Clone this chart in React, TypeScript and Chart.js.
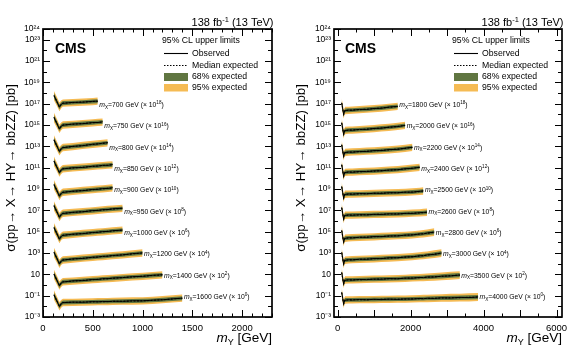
import React, { useEffect, useRef } from 'react';
import { Chart, registerables } from 'chart.js';
Chart.register(...registerables);

const FONT = '"Liberation Sans", Arial, Helvetica, sans-serif';
const GREEN = '#607641';
const YELLOW = '#F5BB54';

// ---------- Left panel data (log10 of limit in pb, before scaling) ----------
const leftMassesX = [700, 750, 800, 850, 900, 950, 1000, 1200, 1400, 1600];
const leftScaleExp = [18, 16, 14, 12, 10, 8, 6, 4, 2, 0];
const leftMY = [110, 140, 165, 185, 200, 300, 400, 500, 550, 600, 650, 700, 800, 900, 1000, 1100, 1200, 1300, 1400];
const leftExpLog = [
  [-0.25, -0.80, -1.30, -1.05, -0.95, -0.90, -0.85, -0.80, -0.77],
  [-0.30, -0.85, -1.35, -1.10, -1.00, -0.93, -0.86, -0.79, -0.76, -0.72],
  [-0.41, -0.96, -1.46, -1.21, -1.11, -1.02, -0.92, -0.82, -0.77, -0.72, -0.67],
  [-0.40, -0.95, -1.45, -1.20, -1.10, -1.03, -0.96, -0.88, -0.84, -0.80, -0.77, -0.73],
  [-0.60, -1.15, -1.65, -1.40, -1.30, -1.22, -1.14, -1.06, -1.02, -0.98, -0.94, -0.90],
  [-0.58, -1.13, -1.63, -1.38, -1.28, -1.20, -1.12, -1.04, -1.00, -0.96, -0.92, -0.88, -0.81],
  [-0.63, -1.18, -1.68, -1.43, -1.33, -1.25, -1.17, -1.09, -1.05, -1.01, -0.97, -0.93, -0.86],
  [-0.95, -1.50, -2.00, -1.75, -1.65, -1.57, -1.49, -1.41, -1.37, -1.33, -1.29, -1.25, -1.17, -1.08, -1.00],
  [-1.00, -1.55, -2.05, -1.80, -1.70, -1.63, -1.57, -1.50, -1.47, -1.43, -1.40, -1.37, -1.30, -1.24, -1.18, -1.11, -1.05],
  [-0.94, -1.49, -1.99, -1.74, -1.64, -1.62, -1.60, -1.58, -1.57, -1.56, -1.55, -1.54, -1.52, -1.50, -1.48, -1.44, -1.38, -1.31, -1.24],
];
const leftObsLog = [
  [-0.22, -0.83, -1.33, -1.03, -0.97, -0.88, -0.86, -0.78, -0.76],
  [-0.27, -0.88, -1.38, -1.08, -1.02, -0.91, -0.88, -0.77, -0.77, -0.70],
  [-0.38, -0.99, -1.49, -1.19, -1.13, -1.00, -0.94, -0.80, -0.78, -0.70, -0.66],
  [-0.37, -0.98, -1.48, -1.18, -1.12, -1.01, -0.98, -0.86, -0.85, -0.78, -0.78, -0.71],
  [-0.57, -1.18, -1.68, -1.38, -1.32, -1.20, -1.16, -1.04, -1.03, -0.96, -0.95, -0.88],
  [-0.55, -1.16, -1.66, -1.36, -1.30, -1.18, -1.14, -1.02, -1.01, -0.94, -0.93, -0.86, -0.80],
  [-0.60, -1.21, -1.71, -1.41, -1.35, -1.23, -1.19, -1.07, -1.06, -0.99, -0.98, -0.91, -0.85],
  [-0.92, -1.53, -2.03, -1.73, -1.67, -1.55, -1.51, -1.39, -1.38, -1.31, -1.30, -1.23, -1.18, -1.06, -0.99],
  [-0.97, -1.58, -2.08, -1.78, -1.72, -1.61, -1.59, -1.48, -1.48, -1.41, -1.41, -1.35, -1.31, -1.22, -1.19, -1.09, -1.04],
  [-0.91, -1.52, -2.02, -1.72, -1.66, -1.60, -1.62, -1.56, -1.58, -1.54, -1.56, -1.52, -1.53, -1.48, -1.49, -1.42, -1.39, -1.30, -1.23],
];
const leftBand68 = [0.24, 0.22, 0.22, 0.2, 0.19, 0.18, 0.18, 0.18, 0.18, 0.18, 0.18, 0.18, 0.18, 0.18, 0.18, 0.18, 0.18, 0.18, 0.18];
const leftBand95 = [0.44, 0.42, 0.4, 0.36, 0.35, 0.34, 0.34, 0.34, 0.34, 0.34, 0.34, 0.34, 0.34, 0.34, 0.34, 0.34, 0.34, 0.34, 0.34];
const leftXTickLabels = [0, 500, 1000, 1500, 2000];

// ---------- Right panel data ----------
const rightMassesX = [1800, 2000, 2200, 2400, 2500, 2600, 2800, 3000, 3500, 4000];
const rightScaleExp = [18, 16, 14, 12, 10, 8, 6, 4, 2, 0];
const rightMY = [110, 140, 165, 185, 200, 300, 400, 600, 800, 1000, 1200, 1400, 1650, 1850, 2050, 2250, 2350, 2450, 2650, 2850, 3100, 3350, 3600, 3850];
const rightExpLog = [
  [-0.94, -1.49, -1.99, -1.74, -1.64, -1.62, -1.60, -1.56, -1.52, -1.47, -1.41, -1.34, -1.26],
  [-0.81, -1.36, -1.86, -1.61, -1.51, -1.49, -1.47, -1.43, -1.39, -1.34, -1.28, -1.22, -1.13, -1.04],
  [-0.87, -1.42, -1.92, -1.67, -1.57, -1.55, -1.53, -1.50, -1.46, -1.42, -1.38, -1.33, -1.26, -1.19, -1.10],
  [-0.74, -1.29, -1.79, -1.54, -1.44, -1.42, -1.41, -1.38, -1.35, -1.32, -1.28, -1.24, -1.18, -1.12, -1.05, -0.97],
  [-0.79, -1.34, -1.84, -1.59, -1.49, -1.48, -1.47, -1.45, -1.43, -1.41, -1.39, -1.37, -1.34, -1.31, -1.28, -1.23, -1.19],
  [-0.76, -1.31, -1.81, -1.56, -1.46, -1.45, -1.44, -1.43, -1.41, -1.39, -1.37, -1.35, -1.33, -1.30, -1.27, -1.24, -1.21, -1.18],
  [-0.91, -1.46, -1.96, -1.71, -1.61, -1.59, -1.57, -1.54, -1.51, -1.48, -1.45, -1.42, -1.38, -1.34, -1.29, -1.23, -1.19, -1.15, -1.05],
  [-0.97, -1.52, -2.02, -1.77, -1.67, -1.65, -1.63, -1.60, -1.57, -1.54, -1.51, -1.47, -1.43, -1.39, -1.34, -1.28, -1.24, -1.20, -1.11, -1.01],
  [-0.84, -1.39, -1.89, -1.64, -1.54, -1.53, -1.52, -1.50, -1.48, -1.46, -1.44, -1.42, -1.40, -1.37, -1.34, -1.31, -1.29, -1.27, -1.23, -1.19, -1.13, -1.07],
  [-0.71, -1.26, -1.76, -1.51, -1.41, -1.40, -1.39, -1.38, -1.37, -1.36, -1.35, -1.34, -1.33, -1.32, -1.30, -1.28, -1.27, -1.26, -1.24, -1.22, -1.20, -1.18, -1.16, -1.13],
];
const rightObsLog = [
  [-0.91, -1.52, -2.02, -1.72, -1.66, -1.60, -1.62, -1.54, -1.54, -1.45, -1.43, -1.32, -1.25],
  [-0.78, -1.39, -1.89, -1.59, -1.53, -1.47, -1.49, -1.41, -1.41, -1.32, -1.30, -1.20, -1.15, -1.03],
  [-0.84, -1.45, -1.95, -1.65, -1.59, -1.53, -1.55, -1.48, -1.48, -1.40, -1.40, -1.31, -1.28, -1.17, -1.09],
  [-0.71, -1.32, -1.82, -1.52, -1.46, -1.40, -1.43, -1.36, -1.37, -1.30, -1.30, -1.22, -1.20, -1.10, -1.06, -0.96],
  [-0.76, -1.37, -1.87, -1.57, -1.51, -1.46, -1.49, -1.43, -1.45, -1.39, -1.41, -1.35, -1.36, -1.29, -1.30, -1.21, -1.18],
  [-0.73, -1.34, -1.84, -1.54, -1.48, -1.43, -1.46, -1.41, -1.43, -1.37, -1.39, -1.33, -1.35, -1.28, -1.29, -1.22, -1.20, -1.17],
  [-0.88, -1.49, -1.99, -1.69, -1.63, -1.57, -1.59, -1.52, -1.53, -1.46, -1.47, -1.40, -1.40, -1.32, -1.31, -1.21, -1.21, -1.13, -1.04],
  [-0.94, -1.55, -2.05, -1.75, -1.69, -1.63, -1.65, -1.58, -1.59, -1.52, -1.53, -1.45, -1.45, -1.37, -1.36, -1.26, -1.26, -1.18, -1.13, -1.00],
  [-0.81, -1.42, -1.92, -1.62, -1.56, -1.51, -1.54, -1.48, -1.50, -1.44, -1.46, -1.40, -1.42, -1.35, -1.36, -1.29, -1.31, -1.25, -1.25, -1.17, -1.15, -1.06],
  [-0.68, -1.29, -1.79, -1.49, -1.43, -1.38, -1.41, -1.36, -1.39, -1.34, -1.37, -1.32, -1.35, -1.30, -1.32, -1.26, -1.29, -1.24, -1.26, -1.20, -1.22, -1.16, -1.18, -1.12],
];
const rightBand68 = [0.24, 0.22, 0.22, 0.2, 0.19, 0.18, 0.18, 0.18, 0.18, 0.18, 0.18, 0.18, 0.18, 0.18, 0.18, 0.18, 0.18, 0.18, 0.19, 0.19, 0.2, 0.2, 0.2, 0.2];
const rightBand95 = [0.44, 0.42, 0.4, 0.36, 0.35, 0.34, 0.34, 0.34, 0.34, 0.34, 0.34, 0.34, 0.34, 0.34, 0.34, 0.34, 0.35, 0.35, 0.36, 0.36, 0.37, 0.37, 0.38, 0.38];
const rightXTickLabels = [0, 2000, 4000, 6000];

// ---------- Axis labels ----------
const yDecades = [-3, -2, -1, 0, 1, 2, 3, 4, 5, 6, 7, 8, 9, 10, 11, 12, 13, 14, 15, 16, 17, 18, 19, 20, 21, 22, 23, 24];
const yLabelExps = [24, 23, 21, 19, 17, 15, 13, 11, 9, 7, 5, 3, 1, -1, -3];
const legendEntries = ['Observed', 'Median expected', '68% expected', '95% expected'];
const legendHeader = '95% CL upper limits';
const yTitle = 'σ(pp→ X→ HY→ bbZZ) [pb]';
const lumiText = ['138 fb', '-1', ' (13 TeV)'];

const SUP: Record<string, string> = { '0': '⁰', '1': '¹', '2': '²', '3': '³', '4': '⁴', '5': '⁵', '6': '⁶', '7': '⁷', '8': '⁸', '9': '⁹', '-': '⁻' };
const sup = (n: number) => String(n).split('').map((c) => SUP[c]).join('');
const decadeLabel = (e: number) => (e === 1 ? '10' : '10' + sup(e));

type Seg = { t: string; size: number; style?: string; dy?: number };
const segFont = (s: Seg) => `${s.style ?? ''} ${s.size}px ${FONT}`;
function richWidth(ctx: CanvasRenderingContext2D, segs: Seg[]) {
  let w = 0;
  for (const s of segs) { ctx.font = segFont(s); w += ctx.measureText(s.t).width; }
  return w;
}
function drawRich(ctx: CanvasRenderingContext2D, x: number, y: number, segs: Seg[]) {
  let cx = x;
  for (const s of segs) {
    ctx.font = segFont(s);
    ctx.fillText(s.t, cx, y + (s.dy ?? 0));
    cx += ctx.measureText(s.t).width;
  }
}

interface PanelSpec {
  masses: number[]; scaleExp: number[]; grid: number[];
  expLog: number[][]; obsLog: number[][]; band68: number[]; band95: number[];
  xMin: number; xMax: number; xLabels: number[]; xMajor: number; xMinor: number; yWidth: number;
}

const leftSpec: PanelSpec = {
  masses: leftMassesX, scaleExp: leftScaleExp, grid: leftMY, expLog: leftExpLog, obsLog: leftObsLog,
  band68: leftBand68, band95: leftBand95, xMin: 0, xMax: 2300, xLabels: leftXTickLabels, xMajor: 500, xMinor: 100, yWidth: 43,
};
const rightSpec: PanelSpec = {
  masses: rightMassesX, scaleExp: rightScaleExp, grid: rightMY, expLog: rightExpLog, obsLog: rightObsLog,
  band68: rightBand68, band95: rightBand95, xMin: -100, xMax: 6150, xLabels: rightXTickLabels, xMajor: 1000, xMinor: 500, yWidth: 44,
};

function buildDatasets(spec: PanelSpec) {
  const ds: any[] = [];
  spec.expLog.forEach((expArr, i) => {
    const s = spec.scaleExp[i];
    const mk = (arr: number[], off: (j: number) => number) =>
      arr.map((v, j) => ({ x: spec.grid[j], y: Math.pow(10, v + off(j) + s) }));
    const base = { pointRadius: 0, tension: 0, borderColor: 'transparent', borderWidth: 0 };
    ds.push({ ...base, data: mk(expArr, (j) => spec.band95[j]), fill: '+1', backgroundColor: YELLOW, order: 3 });
    ds.push({ ...base, data: mk(expArr, (j) => -spec.band95[j]), fill: false, order: 3 });
    ds.push({ ...base, data: mk(expArr, (j) => spec.band68[j]), fill: '+1', backgroundColor: GREEN, order: 2 });
    ds.push({ ...base, data: mk(expArr, (j) => -spec.band68[j]), fill: false, order: 2 });
    ds.push({ pointRadius: 0, tension: 0, data: mk(expArr, () => 0), borderColor: '#000', borderWidth: 1.1, borderDash: [1.8, 1.6], fill: false, order: 1 });
    ds.push({ pointRadius: 0, tension: 0, data: mk(spec.obsLog[i], () => 0), borderColor: '#000', borderWidth: 1.0, fill: false, order: 0 });
  });
  return ds;
}

function makeDecor(spec: PanelSpec) {
  return {
    id: 'decor',
    afterDatasetsDraw(chart: any) {
      const ctx: CanvasRenderingContext2D = chart.ctx;
      const { left, right, top, bottom } = chart.chartArea;
      const xs = chart.scales.x;
      const ys = chart.scales.y;
      ctx.save();
      ctx.strokeStyle = '#000';
      ctx.fillStyle = '#000';
      // ticks (inward)
      ctx.lineWidth = 1;
      ctx.beginPath();
      for (const e of yDecades) {
        const py = Math.round(ys.getPixelForValue(Math.pow(10, e))) + 0.5;
        const len = yLabelExps.includes(e) ? 7 : 4;
        ctx.moveTo(left, py); ctx.lineTo(left + len, py);
        ctx.moveTo(right, py); ctx.lineTo(right - len, py);
      }
      const start = Math.ceil(spec.xMin / spec.xMinor) * spec.xMinor;
      for (let v = start; v <= spec.xMax; v += spec.xMinor) {
        const px = Math.round(xs.getPixelForValue(v)) + 0.5;
        const len = v % spec.xMajor === 0 ? 7 : 3.5;
        ctx.moveTo(px, bottom); ctx.lineTo(px, bottom - len);
        ctx.moveTo(px, top); ctx.lineTo(px, top + len);
      }
      ctx.stroke();
      // frame
      ctx.lineWidth = 1.7;
      ctx.strokeRect(left, top, right - left, bottom - top);

      // series labels
      ctx.textBaseline = 'alphabetic';
      ctx.textAlign = 'left';
      spec.expLog.forEach((arr, i) => {
        const n = arr.length;
        const lx = xs.getPixelForValue(spec.grid[n - 1]) + 1.5;
        const ly = ys.getPixelForValue(Math.pow(10, spec.scaleExp[i] - 1.1)) + 2.3;
        drawRich(ctx, lx, ly, [
          { t: 'm', size: 6.8, style: 'italic' },
          { t: 'X', size: 4.6, dy: 1.5 },
          { t: `=${spec.masses[i]} GeV (× 10`, size: 6.8 },
          { t: String(spec.scaleExp[i]), size: 4.6, dy: -2.6 },
          { t: ')', size: 6.8 },
        ]);
      });

      // CMS
      ctx.font = `bold 14px ${FONT}`;
      ctx.fillText('CMS', 55, 53);
      // lumi
      const lumiSegs: Seg[] = [
        { t: lumiText[0], size: 11 },
        { t: lumiText[1], size: 7.5, dy: -4 },
        { t: lumiText[2], size: 11 },
      ];
      const lw = richWidth(ctx, lumiSegs);
      drawRich(ctx, right + 1.5 - lw, 26, lumiSegs);

      // legend
      ctx.textBaseline = 'middle';
      ctx.font = `8.7px ${FONT}`;
      ctx.fillText(legendHeader, 162, 41);
      const lx0 = 164, lx1 = 188, tx = 192;
      ctx.lineWidth = 1.1;
      ctx.beginPath(); ctx.moveTo(lx0, 53.5); ctx.lineTo(lx1, 53.5); ctx.stroke();
      ctx.setLineDash([1.5, 1.5]);
      ctx.beginPath(); ctx.moveTo(lx0, 65.5); ctx.lineTo(lx1, 65.5); ctx.stroke();
      ctx.setLineDash([]);
      ctx.fillStyle = GREEN; ctx.fillRect(lx0, 73, lx1 - lx0, 8);
      ctx.fillStyle = YELLOW; ctx.fillRect(lx0, 84, lx1 - lx0, 7.5);
      ctx.fillStyle = '#000';
      ctx.fillText(legendEntries[0], tx, 53.5);
      ctx.fillText(legendEntries[1], tx, 65.5);
      ctx.fillText(legendEntries[2], tx, 77);
      ctx.fillText(legendEntries[3], tx, 88);

      // y title
      ctx.save();
      ctx.font = `10px ${FONT}`;
      const w10 = ctx.measureText(yTitle).width;
      const fs = (10 * 168) / w10;
      ctx.font = `${fs}px ${FONT}`;
      ctx.translate(11, 84);
      ctx.rotate(-Math.PI / 2);
      ctx.textAlign = 'right';
      ctx.textBaseline = 'middle';
      ctx.fillText(yTitle, 0, 0);
      ctx.restore();

      // x title
      ctx.textBaseline = 'alphabetic';
      const xt: Seg[] = [
        { t: 'm', size: 13.5, style: 'italic' },
        { t: 'Y', size: 9, dy: 3 },
        { t: ' [GeV]', size: 13.5 },
      ];
      const xw = richWidth(ctx, xt);
      drawRich(ctx, right - xw, 342, xt);
      ctx.restore();
    },
  };
}

function buildConfig(spec: PanelSpec): any {
  return {
    type: 'line',
    data: { datasets: buildDatasets(spec) },
    options: {
      responsive: false,
      animation: false,
      devicePixelRatio: 1,
      events: [],
      layout: { padding: { top: 29, right: 18, left: 0, bottom: 0 } },
      plugins: { legend: { display: false }, tooltip: { enabled: false } },
      scales: {
        x: {
          type: 'linear',
          min: spec.xMin,
          max: spec.xMax,
          grid: { display: false, drawTicks: false },
          border: { display: false },
          ticks: {
            autoSkip: false, maxRotation: 0, padding: 6, color: '#000',
            font: { size: 9.5, family: FONT },
            callback: (v: number) => String(v),
          },
          afterBuildTicks: (scale: any) => { scale.ticks = spec.xLabels.map((v) => ({ value: v })); },
          afterFit: (scale: any) => { scale.height = 34; },
        },
        y: {
          type: 'logarithmic',
          min: 1e-3,
          max: 1e24,
          grid: { display: false, drawTicks: false },
          border: { display: false },
          ticks: {
            autoSkip: false, padding: 3, color: '#000',
            font: { size: 8.5, family: FONT },
            callback: (v: number) => {
              const e = Math.round(Math.log10(v));
              return yLabelExps.includes(e) ? decadeLabel(e) : '';
            },
          },
          afterBuildTicks: (scale: any) => { scale.ticks = yDecades.map((e) => ({ value: Math.pow(10, e) })); },
          afterFit: (scale: any) => { scale.width = spec.yWidth; },
        },
      },
    },
    plugins: [makeDecor(spec)],
  };
}

function Panel({ spec, left }: { spec: PanelSpec; left: number }) {
  const ref = useRef<HTMLCanvasElement>(null);
  useEffect(() => {
    const chart = new Chart(ref.current as HTMLCanvasElement, buildConfig(spec));
    return () => chart.destroy();
  }, [spec]);
  return (
    <canvas
      ref={ref}
      width={290}
      height={351}
      style={{ position: 'absolute', left, top: 0, width: 290, height: 351 }}
    />
  );
}

export default function App() {
  return (
    <div style={{ position: 'fixed', left: 0, top: 0, width: 580, height: 351, background: '#fff' }}>
      <Panel spec={leftSpec} left={0} />
      <Panel spec={rightSpec} left={290} />
    </div>
  );
}
